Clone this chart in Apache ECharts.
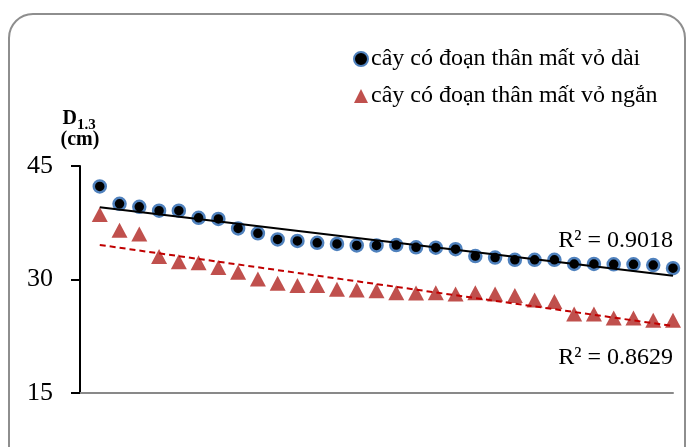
<!DOCTYPE html>
<html>
<head>
<meta charset="utf-8">
<script src="https://cdn.jsdelivr.net/npm/echarts@6/dist/echarts.min.js"></script>
<style>
html,body{margin:0;padding:0;background:#fff;}
#c{width:692px;height:447px;}
</style>
</head>
<body>
<div id="c"></div>
<script>
// ---- data ----
const xIndex = [1,2,3,4,5,6,7,8,9,10,11,12,13,14,15,16,17,18,19,20,21,22,23,24,25,26,27,28,29,30];
const longValues = [42.3,40.0,39.6,39.1,39.1,38.15,38.0,36.75,36.1,35.3,35.1,34.85,34.7,34.5,34.5,34.55,34.25,34.2,34.0,33.1,32.9,32.6,32.6,32.6,32.05,32.05,32.0,32.0,31.9,31.5];
const shortValues = [38.6,36.5,36.0,33.05,32.35,32.2,31.6,30.95,30.05,29.5,29.2,29.2,28.7,28.6,28.5,28.25,28.2,28.25,28.1,28.25,28.1,27.9,27.3,27.1,25.45,25.45,24.9,24.9,24.6,24.6];
const seriesNames = ['cây có đoạn thân mất vỏ dài', 'cây có đoạn thân mất vỏ ngắn'];
const r2Labels = ['R² = 0.9018', 'R² = 0.8629'];
const yTitle = ['D', '1.3', '(cm)'];
const yTicks = [15, 30, 45];

// least-squares linear trendline (as a spreadsheet trendline)
function trend(xs, ys) {
  const n = xs.length;
  let sx=0, sy=0, sxx=0, sxy=0;
  for (let i=0;i<n;i++){ sx+=xs[i]; sy+=ys[i]; sxx+=xs[i]*xs[i]; sxy+=xs[i]*ys[i]; }
  const b = (n*sxy - sx*sy)/(n*sxx - sx*sx);
  const a = (sy - b*sx)/n;
  return [[xs[0], a + b*xs[0]], [xs[n-1], a + b*xs[n-1]]];
}

const chart = echarts.init(document.getElementById('c'));
const font = '"Liberation Serif","Times New Roman",serif';

chart.setOption({
  animation: false,
  backgroundColor: '#fff',
  textStyle: { fontFamily: font },
  grid: { left: 80, right: 19, top: 166, bottom: 54 },
  legend: {
    data: seriesNames,
    orient: 'vertical',
    left: 353,
    top: 47,
    padding: 0,
    itemWidth: 14,
    itemHeight: 14,
    itemGap: 13,
    textStyle: { fontFamily: font, fontSize: 24, color: '#000', lineHeight: 24, padding: [0,0,0,-2] }
  },
  xAxis: {
    type: 'value', min: 0, max: 30,
    axisLine: { show: true, lineStyle: { color: '#898989', width: 2 } },
    axisTick: { show: false },
    axisLabel: { show: false },
    splitLine: { show: false }
  },
  yAxis: {
    type: 'value', min: yTicks[0], max: yTicks[yTicks.length-1], interval: yTicks[1]-yTicks[0],
    axisLine: { show: true, lineStyle: { color: '#000', width: 2 } },
    axisTick: { show: true, length: 9, lineStyle: { color: '#000', width: 2 } },
    axisLabel: { color: '#000', fontSize: 26, fontFamily: font, margin: 27 },
    splitLine: { show: false }
  },
  graphic: [
    { type: 'rect', silent: true, shape: { x: 9, y: 14, width: 676, height: 460, r: 24 },
      style: { fill: 'none', stroke: '#8e8e8e', lineWidth: 2 } },
    { type: 'text', silent: true, x: 77, y: 119,
      style: { text: yTitle[0], font: 'bold 20px ' + font, fill: '#000', align: 'right', verticalAlign: 'middle' } },
    { type: 'text', silent: true, x: 77, y: 125.5,
      style: { text: yTitle[1], font: 'bold 15px ' + font, fill: '#000', align: 'left', verticalAlign: 'middle' } },
    { type: 'text', silent: true, x: 80, y: 139.5,
      style: { text: yTitle[2], font: 'bold 20px ' + font, fill: '#000', align: 'center', verticalAlign: 'middle' } },
    { type: 'text', right: 19, top: 229,
      style: { text: r2Labels[0], font: '24px ' + font, fill: '#000' } },
    { type: 'text', right: 19, top: 346,
      style: { text: r2Labels[1], font: '24px ' + font, fill: '#000' } }
  ],
  series: [
    {
      name: seriesNames[0], type: 'scatter', symbol: 'circle', symbolSize: 12, z: 3,
      itemStyle: { color: '#000', borderColor: '#4f81bd', borderWidth: 2.5, opacity: 1 },
      data: xIndex.map((x,i)=>[x, longValues[i]])
    },
    {
      name: seriesNames[1], type: 'scatter', symbol: 'triangle', symbolSize: [16, 15], z: 3,
      itemStyle: { color: '#c0504d', opacity: 1 },
      data: xIndex.map((x,i)=>[x, shortValues[i]])
    },
    {
      type: 'line', silent: true, symbol: 'none', z: 4,
      lineStyle: { color: '#000', width: 2 },
      data: trend(xIndex, longValues)
    },
    {
      type: 'line', silent: true, symbol: 'none', z: 4,
      lineStyle: { color: '#c00000', width: 2, type: [6, 4] },
      data: trend(xIndex, shortValues)
    }
  ]
});
</script>
</body>
</html>
